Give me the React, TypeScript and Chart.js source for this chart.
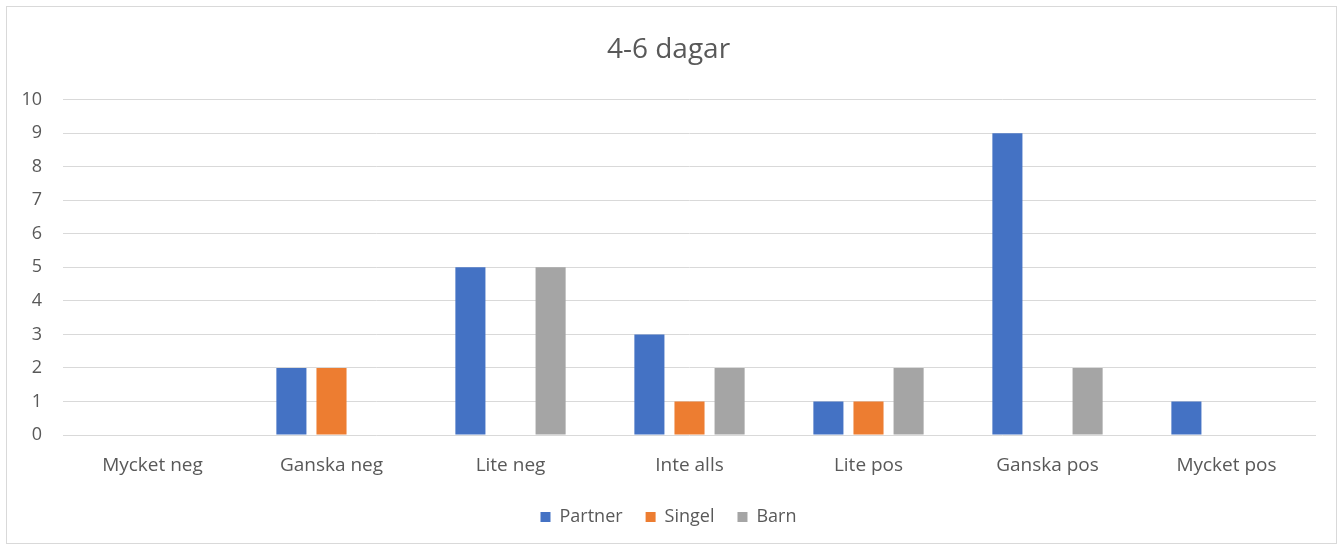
import React, { useEffect, useRef } from "react";
import { Chart, registerables } from "chart.js";

Chart.register(...registerables);

const categories = ["Mycket neg", "Ganska neg", "Lite neg", "Inte alls", "Lite pos", "Ganska pos", "Mycket pos"];
const partner = [0, 2, 5, 3, 1, 9, 1];
const singel = [0, 2, 0, 1, 1, 0, 0];
const barn = [0, 0, 5, 2, 2, 2, 0];
const seriesNames = ["Partner", "Singel", "Barn"];
const seriesColors = ["#4472C4", "#ED7D31", "#A5A5A5"];
const titleText = "4-6 dagar";
const yMin = 0;
const yMax = 10;
const yStep = 1;

export default function App() {
  const ref = useRef<HTMLCanvasElement | null>(null);

  useEffect(() => {
    if (!ref.current) return;
    const font = "'Open Sans', 'DejaVu Sans', sans-serif";
    const chart = new Chart(ref.current, {
      type: "bar",
      data: {
        labels: categories,
        datasets: [partner, singel, barn].map((d, i) => ({
          label: seriesNames[i],
          data: d,
          backgroundColor: seriesColors[i],
          borderWidth: 0,
          barPercentage: 0.75,
          categoryPercentage: 0.672,
        })),
      },
      options: {
        animation: false,
        responsive: true,
        maintainAspectRatio: false,
        layout: { padding: { left: 14, right: 20, top: 0, bottom: 7 } },
        plugins: {
          title: {
            display: true,
            text: titleText,
            color: "#595959",
            font: { family: font, size: 28, weight: "normal" },
            padding: { top: 26, bottom: 33 },
          },
          legend: {
            position: "bottom",
            labels: {
              color: "#595959",
              font: { family: font, size: 18 },
              boxWidth: 10,
              boxHeight: 10,
              padding: 23,
            },
          },
          tooltip: { enabled: false },
        },
        scales: {
          x: {
            grid: { display: false, drawTicks: false },
            border: { display: false },
            ticks: { color: "#595959", font: { family: font, size: 19 }, padding: 19 },
            afterFit: (s: any) => { s.height = 50; },
          },
          y: {
            min: yMin,
            max: yMax,
            grid: { color: "#d9d9d9", drawTicks: false },
            border: { display: false },
            ticks: { stepSize: yStep, color: "#595959", font: { family: font, size: 18 }, padding: 21 },
            afterFit: (s: any) => { s.width = 42; },
          },
        },
      },
    });
    return () => chart.destroy();
  }, []);

  return (
    <div style={{ position: "absolute", left: 0, top: 0, width: 1343, height: 547, background: "#fff" }}>
      <div style={{ position: "absolute", left: 6, top: 6, width: 1329, height: 536, border: "1px solid #d9d9d9" }}>
        <canvas ref={ref} />
      </div>
    </div>
  );
}
